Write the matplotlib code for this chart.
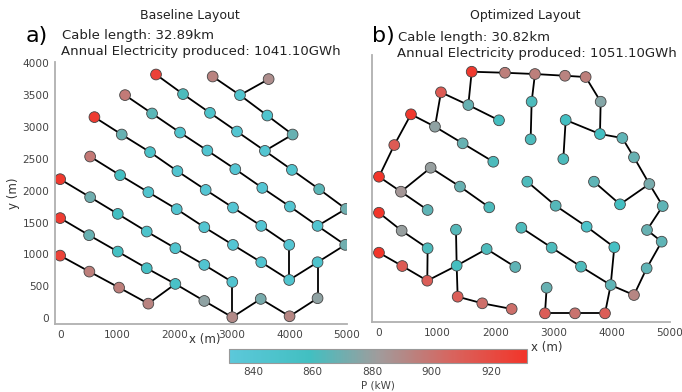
import matplotlib
matplotlib.use("Agg")
import matplotlib.pyplot as plt
import numpy as np
from matplotlib.colors import LinearSegmentedColormap, Normalize
from matplotlib.cm import ScalarMappable

# ---- baseline layout (turbine x, y in m, power in kW) ----
base_x = [1672, 2143, 2613, 3084, 3571, 4042, 4517, 4983,
          2660, 3136, 3612, 4054, 3636,
          1132, 1603, 2091, 2567, 3054, 3525, 4007, 4489, 4971,
          598, 1074, 1568, 2045, 2538, 3014, 3507, 3995,
          523, 1045, 1538, 2033, 2514, 3014, 3507, 3995,
          0, 523, 1005, 1510, 2009, 2514, 3002,
          0, 505, 1005, 1510, 2009, 2514, 3002,
          0, 510, 1028, 1538,
          3498, 4001, 4489, 4489]
base_y = [3821, 3514, 3220, 2927, 2624, 2326, 2023, 1714,
          3790, 3498, 3178, 2880, 3749,
          3498, 3210, 2911, 2629, 2337, 2044, 1751, 1448, 1150,
          3153, 2880, 2604, 2306, 2012, 1735, 1448, 1150,
          2535, 2243, 1976, 1710, 1427, 1150, 878, 600,
          2180, 1898, 1636, 1359, 1098, 836, 569,
          1570, 1302, 1045, 784, 538, 271, 16,
          982, 731, 480, 229,
          303, 31, 314, 878]
base_p = [925, 862, 848, 842, 842, 845, 865, 870,
          893, 845, 845, 868, 888,
          897, 865, 845, 843, 840, 840, 842, 843, 870,
          928, 868, 850, 843, 840, 840, 840, 840,
          898, 858, 845, 843, 842, 840, 843, 845,
          930, 870, 858, 848, 845, 843, 843,
          928, 868, 857, 855, 852, 878, 890,
          925, 895, 895, 893,
          872, 892, 878, 847]
base_edges = [(0, 1), (1, 2), (2, 3), (3, 4), (4, 5), (5, 6), (6, 7), (7, 20),
              (8, 9), (9, 10), (10, 11), (11, 4), (12, 9),
              (13, 14), (14, 15), (15, 16), (16, 17), (17, 18), (18, 19), (19, 20), (20, 21), (21, 59),
              (22, 23), (23, 24), (24, 25), (25, 26), (26, 27), (27, 28), (28, 29), (29, 37),
              (30, 31), (31, 32), (32, 33), (33, 34), (34, 35), (35, 36), (36, 37), (37, 59),
              (38, 39), (39, 40), (40, 41), (41, 42), (42, 43), (43, 44), (44, 51),
              (45, 46), (46, 47), (47, 48), (48, 49), (49, 50), (50, 51),
              (52, 53), (53, 54), (54, 55), (55, 49),
              (51, 56), (56, 57), (57, 58), (58, 59)]

# ---- optimized layout ----
opt_x = [1593, 2165, 1065, 1535, 2062, 550, 962, 1438, 1964, 263,
         0, 888, 378, 1392, 2680, 3196, 3551, 3809, 2623, 2606,
         3208, 3167, 3797, 4181, 4381, 4645, 2548, 3694, 836, 1895,
         2446, 0, 390, 836, 1323, 0, 400, 830, 1335, 1850,
         2342, 1352, 1775, 2280, 4141, 4875, 3036, 3568, 4605, 4857,
         4043, 2967, 3471, 4599, 3981, 4381, 2881, 2852, 3368, 3883]
opt_y = [3832, 3816, 3509, 3310, 3070, 3164, 2970, 2709, 2420, 2682,
         2185, 2326, 1950, 2030, 3796, 3769, 3749, 3362, 3362, 2772,
         3075, 2463, 2855, 2792, 2489, 2071, 2107, 2107, 1663, 1705,
         1385, 1620, 1338, 1062, 1354, 993, 784, 554, 790, 1051,
         769, 303, 199, 110, 1752, 1725, 1730, 1401, 1349, 1166,
         1078, 1072, 774, 748, 486, 329, 444, 42, 42, 42]
opt_p = [930, 895, 912, 868, 860, 930, 878, 868, 862, 912,
         932, 880, 884, 868, 895, 893, 895, 875, 862, 862,
         858, 862, 858, 866, 868, 872, 862, 866, 866, 862,
         862, 932, 880, 862, 864, 932, 912, 910, 860, 862,
         866, 910, 902, 902, 858, 866, 864, 850, 868, 866,
         856, 862, 862, 866, 866, 892, 868, 910, 900, 910]
# 1-based turbine numbers
opt_edges = [(1, 2), (2, 15), (15, 16), (16, 17), (17, 18), (18, 23), (23, 21), (21, 22),
             (23, 24), (24, 25), (25, 26), (26, 45), (45, 28), (26, 46), (46, 49), (49, 50),
             (50, 54), (54, 56), (56, 55), (55, 51), (55, 60), (60, 59), (59, 58), (58, 57),
             (55, 53), (53, 52), (52, 31), (51, 48), (48, 47), (47, 27), (15, 19), (19, 20),
             (1, 4), (4, 5), (3, 4), (3, 7), (6, 7), (7, 8), (8, 9), (6, 10), (10, 11),
             (11, 13), (13, 12), (12, 14), (14, 30), (13, 29), (32, 33), (33, 34), (34, 38),
             (36, 37), (37, 38), (38, 39), (39, 35), (39, 40), (40, 41), (39, 42), (42, 43),
             (43, 44)]

p_min, p_max = 832, 932
cmap = LinearSegmentedColormap.from_list(
    "pw", [(0.0, "#5cc8da"), (0.27, "#42bfc1"), (0.5, "#a09c9c"),
           (0.75, "#d8645e"), (1.0, "#f2352a")])
norm = Normalize(p_min, p_max)

fig = plt.figure(figsize=(6.82, 3.92), dpi=100)
ax1 = fig.add_axes([0.0806, 0.1735, 0.428, 0.668])
ax2 = fig.add_axes([0.545, 0.1786, 0.4374, 0.681])


def draw(ax, xs, ys, ps, edges, base=0):
    xs = np.array(xs)
    ys = np.array(ys)
    for a, b in edges:
        a -= base
        b -= base
        ax.plot([xs[a], xs[b]], [ys[a], ys[b]], color="black", lw=1.3, zorder=1)
    ax.scatter(xs, ys, c=ps, cmap=cmap, norm=norm, s=60,
               edgecolors="#444444", linewidths=0.6, zorder=2)
    for s in ["top", "right"]:
        ax.spines[s].set_visible(False)
    for s in ["left", "bottom"]:
        ax.spines[s].set_color("#b0b0b0")
        ax.spines[s].set_linewidth(1.3)
    ax.tick_params(length=0, labelsize=7.6, colors="#444444", pad=4)


draw(ax1, base_x, base_y, base_p, base_edges)
ax1.set_xlim(-90, 5000)
ax1.set_ylim(-90, 4015)
ax1.set_xticks(range(0, 5001, 1000))
ax1.set_yticks(range(0, 4001, 500))
ax1.set_ylabel("y (m)", fontsize=8.5, color="#333333", labelpad=2)

draw(ax2, opt_x, opt_y, opt_p, opt_edges, base=1)
ax2.set_xlim(-125, 5000)
ax2.set_ylim(-94, 4094)
ax2.set_xticks(range(0, 5001, 1000))
ax2.set_yticks([])

fig.text(205 / 682, 1 - 339 / 392, "x (m)", ha="center", va="center", fontsize=8.5, color="#333333")
fig.text(547 / 682, 1 - 347 / 392, "x (m)", ha="center", va="center", fontsize=8.5, color="#333333")

fig.text(190 / 682, 1 - 16 / 392, "Baseline Layout", ha="center", va="center", fontsize=9, color="#222222")
fig.text(525 / 682, 1 - 16 / 392, "Optimized Layout", ha="center", va="center", fontsize=9, color="#222222")
fig.text(37 / 682, 1 - 36 / 392, "a)", ha="center", va="center", fontsize=16)
fig.text(383 / 682, 1 - 36 / 392, "b)", ha="center", va="center", fontsize=16)
fig.text(62 / 682, 1 - 35 / 392, "Cable length: 32.89km", ha="left", va="center", fontsize=9.5, color="#222222")
fig.text(61 / 682, 1 - 52 / 392, "Annual Electricity produced: 1041.10GWh", ha="left", va="center", fontsize=9.5, color="#222222")
fig.text(398 / 682, 1 - 37 / 392, "Cable length: 30.82km", ha="left", va="center", fontsize=9.5, color="#222222")
fig.text(397 / 682, 1 - 53 / 392, "Annual Electricity produced: 1051.10GWh", ha="left", va="center", fontsize=9.5, color="#222222")

cax = fig.add_axes([229.3 / 682, 1 - 363.3 / 392, 297.4 / 682, 14.3 / 392])
cb = fig.colorbar(ScalarMappable(norm=norm, cmap=cmap), cax=cax, orientation="horizontal")
cb.set_ticks([840, 860, 880, 900, 920])
cb.outline.set_edgecolor("#999999")
cb.outline.set_linewidth(0.8)
cax.tick_params(length=0, labelsize=7.6, colors="#444444", pad=3)
cb.set_label("P (kW)", fontsize=7.5, color="#444444", labelpad=2)

fig.savefig("out.png", dpi=100)
